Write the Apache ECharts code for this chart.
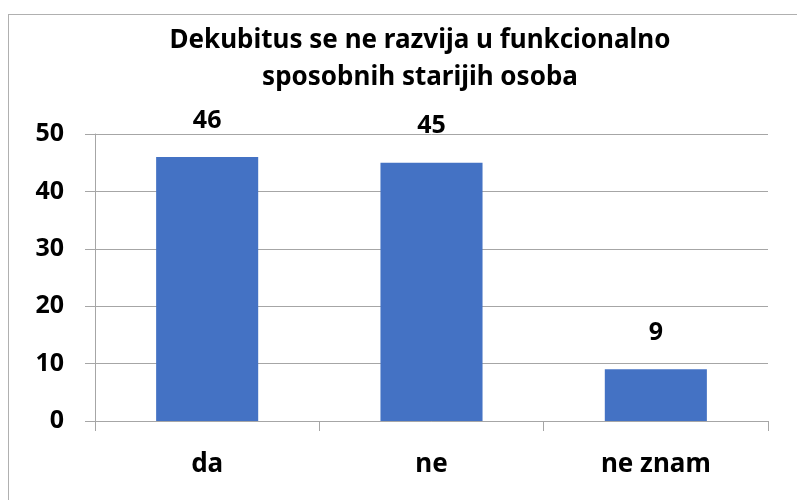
<!DOCTYPE html>
<html>
<head>
<meta charset="utf-8">
<script src="https://cdn.jsdelivr.net/npm/echarts@6/dist/echarts.min.js"></script>
<style>
    html, body { margin: 0; padding: 0; background: #fff; }
    #frame { position: absolute; left: 8px; top: 14px; width: 800px; height: 500px; border-left: 1px solid #b0b0b0; border-top: 1px solid #b0b0b0; }
    #main { position: absolute; left: 0; top: 0; width: 797px; height: 500px; }
</style>
</head>
<body>
<div id="frame"></div>
<div id="main"></div>
<script>
    // podaci
    var categories = ['da', 'ne', 'ne znam'];
    var values = [46, 45, 9];
    var yTicks = [0, 10, 20, 30, 40, 50];

    var fontFam = '"Noto Sans", "DejaVu Sans", sans-serif';
    var chart = echarts.init(document.getElementById('main'));
    var option = {
        animation: false,
        title: {
            text: 'Dekubitus se ne razvija u funkcionalno\nsposobnih starijih osoba',
            left: 415,
            textAlign: 'center',
            top: 17,
            textStyle: {
                fontFamily: fontFam,
                fontWeight: 'bold',
                fontSize: 26,
                lineHeight: 37,
                color: '#000'
            }
        },
        grid: {
            left: 95,
            right: 29,
            top: 134,
            bottom: 79
        },
        xAxis: {
            type: 'category',
            data: categories,
            axisLine: { lineStyle: { color: '#a6a6a6', width: 1 } },
            axisTick: { show: true, length: 10, alignWithLabel: false, lineStyle: { color: '#a6a6a6' } },
            axisLabel: {
                margin: 31,
                fontFamily: fontFam,
                fontWeight: 'bold',
                fontSize: 26,
                color: '#000'
            }
        },
        yAxis: {
            type: 'value',
            min: yTicks[0],
            max: yTicks[yTicks.length - 1],
            interval: 10,
            axisLine: { show: true, lineStyle: { color: '#a6a6a6', width: 1 } },
            axisTick: { show: true, length: 10, lineStyle: { color: '#a6a6a6' } },
            splitLine: { lineStyle: { color: '#a6a6a6', width: 1 } },
            axisLabel: {
                margin: 31,
                fontFamily: fontFam,
                fontWeight: 'bold',
                fontSize: 25,
                color: '#000'
            }
        },
        series: [{
            type: 'bar',
            data: values,
            barWidth: '45.5%',
            itemStyle: { color: '#4472c4' },
            label: {
                show: true,
                position: 'top',
                distance: 24,
                fontFamily: fontFam,
                fontWeight: 'bold',
                fontSize: 25,
                color: '#000'
            }
        }]
    };
    chart.setOption(option);
</script>
</body>
</html>
